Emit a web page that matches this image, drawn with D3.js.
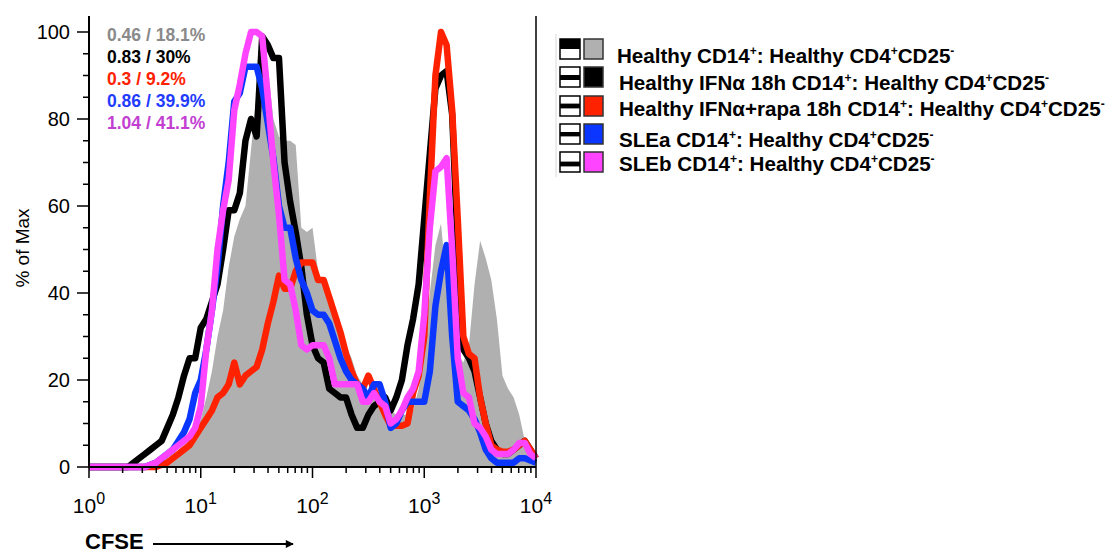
<!DOCTYPE html>
<html>
<head>
<meta charset="utf-8">
<script src="https://cdn.jsdelivr.net/npm/d3@7"></script>
<style>
body { margin: 0; background: #fff; }
svg text { font-family: "Liberation Sans", Arial, Helvetica, sans-serif; }
</style>
</head>
<body>
<div id="chart"></div>
<script>
// histogram bin centres, log10(CFSE)
var cfseLog = [0, 0.05, 0.1, 0.15, 0.2, 0.25, 0.3, 0.35, 0.4, 0.45,
    0.5, 0.55, 0.6, 0.65, 0.7, 0.75, 0.8, 0.85, 0.9, 0.95,
    1, 1.05, 1.1, 1.15, 1.2, 1.25, 1.3, 1.35, 1.4, 1.45,
    1.5, 1.55, 1.6, 1.65, 1.7, 1.75, 1.8, 1.85, 1.9, 1.95,
    2, 2.05, 2.1, 2.15, 2.2, 2.25, 2.3, 2.35, 2.4, 2.45,
    2.5, 2.55, 2.6, 2.65, 2.7, 2.75, 2.8, 2.85, 2.9, 2.95,
    3, 3.05, 3.1, 3.15, 3.2, 3.25, 3.3, 3.35, 3.4, 3.45,
    3.5, 3.55, 3.6, 3.65, 3.7, 3.75, 3.8, 3.85, 3.9, 3.95, 4];

// % of max, one value per bin
var healthy = [0, 0, 0, 0, 0, 0, 0, 0, 0, 0,
    0, 0, 0, 0, 1, 2, 4, 5, 7, 9,
    11, 16, 22, 30, 36, 46, 53, 57, 60, 73,
    86, 100, 92, 80, 76, 75, 75, 74, 55, 54,
    55, 45, 41, 38, 34, 31, 28, 25, 21, 19,
    17, 16, 15, 14, 13, 12, 12, 12, 13, 18,
    28, 40, 51, 56, 42, 30, 26, 24, 28, 42,
    52, 48, 43, 34, 21, 18, 16, 12, 6, 2, 0];

var ifn18h = [0, 0, 0, 0, 0, 0, 0, 0, 1, 2,
    3, 4, 5, 6, 9, 12, 16, 21, 25, 25,
    32, 34, 38, 42, 50, 59, 59, 63, 75, 80,
    76, 99, 97, 94, 94, 70, 61, 54, 46, 35,
    28, 25, 24, 18, 17, 16, 16, 12, 9, 9,
    12, 14, 15, 16, 13, 16, 20, 28, 34, 42,
    57, 72, 87, 90, 91, 81, 50, 27, 25, 22,
    16, 10, 6, 4, 3, 3, 4, 5, 6, 4, 2];

var ifnRapa = [0, 0, 0, 0, 0, 0, 0, 0, 0, 0,
    0, 0, 0, 0.5, 1, 2, 3, 4, 5, 7,
    9, 11, 13, 16, 17, 19, 24, 19, 21, 22,
    23, 27, 33, 38, 44, 41, 41, 45, 47, 47,
    47, 43, 43, 39, 35, 31, 26, 22, 19, 18,
    21, 18, 15, 12, 9.5, 9.5, 9.5, 10, 17, 21,
    30, 62, 90, 100, 97, 82, 57, 30, 26, 25,
    16, 10, 5, 4, 3.5, 3.5, 4, 5, 6, 4, 2];

var sleA = [0, 0, 0, 0, 0, 0, 0, 0, 0, 0,
    0, 0.5, 1, 2, 3, 4, 6, 8, 11, 17,
    20, 27, 36, 46, 60, 70, 84, 86, 92, 92,
    92, 87, 79, 71, 60, 55, 55, 48, 43, 40,
    36, 35, 35, 33, 29, 25, 22, 20, 19, 18,
    16, 19, 19, 15, 9, 10, 13, 15, 15, 15,
    15, 22, 37, 45, 51, 30, 15, 14, 13, 11,
    8, 4, 2, 1, 1, 1, 1, 2, 2, 1.5, 1];

var sleB = [0, 0, 0, 0, 0, 0, 0, 0, 0, 0,
    0, 0.5, 1, 2, 3, 4, 5, 6, 7, 9,
    14, 27, 36, 50, 59, 66, 82, 88, 95, 100,
    100, 99, 85, 70, 58, 43, 42, 36, 28, 27,
    28, 28, 28, 25, 19, 19, 19, 19, 19, 15,
    15, 17, 15, 14, 10, 11, 13, 16, 18, 22,
    35, 55, 68, 69, 71, 50, 25, 17, 16, 10,
    9, 7, 4, 3, 3, 3, 4, 5.5, 5.5, 3, 2];

var legendNames = [
    ["Healthy CD14", "+", ": Healthy CD4", "+", "CD25", "-"],
    ["Healthy IFN\u03b1 18h CD14", "+", ": Healthy CD4", "+", "CD25", "-"],
    ["Healthy IFN\u03b1+rapa 18h CD14", "+", ": Healthy CD4", "+", "CD25", "-"],
    ["SLEa CD14", "+", ": Healthy CD4", "+", "CD25", "-"],
    ["SLEb CD14", "+", ": Healthy CD4", "+", "CD25", "-"]
];
var seriesColors = ["#b0b0b0", "#000000", "#ff2200", "#0a36ff", "#ff44ff"];
var statLabels = ["0.46 / 18.1%", "0.83 / 30%", "0.3 / 9.2%", "0.86 / 39.9%", "1.04 / 41.1%"];
var statColors = ["#8a8a8a", "#000000", "#ff2200", "#1f3cff", "#c23fd2"];
var yTicks = [0, 20, 40, 60, 80, 100];
var xDecades = [0, 1, 2, 3, 4];

(function() {
    var W = 1108, H = 553;
    var mLeft = 89, mRight = 536, mTop = 32, mBottom = 467;

    var svg = d3.select("#chart")
        .append("svg")
        .attr("width", W)
        .attr("height", H);

    var x = d3.scaleLog().domain([1, 10000]).range([mLeft, mRight]);
    var y = d3.scaleLinear().domain([0, 100]).range([mBottom, mTop]);

    var pts = function(vals) {
        return vals.map(function(v, i) { return {c: Math.pow(10, cfseLog[i]), v: v}; });
    };

    // gray filled histogram
    var area = d3.area()
        .x(function(d) { return x(d.c); })
        .y0(y(0))
        .y1(function(d) { return y(d.v); });

    svg.append("path")
        .attr("d", area(pts(healthy)))
        .attr("fill", seriesColors[0]);

    var line = d3.line()
        .x(function(d) { return x(d.c); })
        .y(function(d) { return y(d.v); });

    // draw order: black, red, blue, magenta on top
    [[ifn18h, 1], [ifnRapa, 2], [sleA, 3], [sleB, 4]].forEach(function(s) {
        svg.append("path")
            .attr("d", line(pts(s[0])))
            .attr("fill", "none")
            .attr("stroke", seriesColors[s[1]])
            .attr("stroke-width", 6.5)
            .attr("stroke-linejoin", "round");
    });

    // axes
    var axes = svg.append("g").attr("stroke", "#000").attr("stroke-width", 2);
    axes.append("line").attr("x1", mLeft).attr("x2", mLeft).attr("y1", 16).attr("y2", mBottom + 1);
    axes.append("line").attr("x1", mLeft - 1).attr("x2", mRight).attr("y1", mBottom).attr("y2", mBottom);
    axes.append("line").attr("x1", mRight).attr("x2", mRight).attr("y1", 16).attr("y2", mBottom)
        .attr("stroke-width", 1.5);

    // y ticks: major every 20, minor every 5
    d3.range(0, 101, 5).forEach(function(v) {
        var major = yTicks.indexOf(v) >= 0;
        axes.append("line")
            .attr("x1", mLeft - (major ? 12 : 6)).attr("x2", mLeft)
            .attr("y1", y(v)).attr("y2", y(v))
            .attr("stroke-width", 1.5);
    });

    svg.selectAll(".ylab")
        .data(yTicks)
        .enter().append("text")
        .attr("class", "ylab")
        .attr("x", 70)
        .attr("y", function(d) { return y(d); })
        .attr("dy", "0.36em")
        .attr("text-anchor", "end")
        .style("font-size", "20px")
        .text(function(d) { return d; });

    // x ticks: decades plus log minors
    xDecades.forEach(function(p) {
        var t = Math.pow(10, p);
        axes.append("line")
            .attr("x1", x(t)).attr("x2", x(t))
            .attr("y1", mBottom).attr("y2", mBottom + 11)
            .attr("stroke-width", 1.5);
        if (p < 4) {
            for (var m = 2; m <= 9; m++) {
                axes.append("line")
                    .attr("x1", x(t * m)).attr("x2", x(t * m))
                    .attr("y1", mBottom).attr("y2", mBottom + 6)
                    .attr("stroke-width", 1.5);
            }
        }
        var lab = svg.append("text")
            .attr("x", x(t))
            .attr("y", 513)
            .attr("text-anchor", "middle")
            .style("font-size", "21px");
        lab.append("tspan").text("10");
        lab.append("tspan").attr("dy", -9).style("font-size", "16px").text(p);
    });

    // axis titles
    svg.append("text")
        .attr("transform", "translate(29,248) rotate(-90)")
        .attr("text-anchor", "middle")
        .style("font-size", "19px")
        .text("% of Max");

    svg.append("text")
        .attr("x", 85)
        .attr("y", 549)
        .style("font-size", "22px")
        .style("font-weight", "bold")
        .text("CFSE");

    svg.append("defs").append("marker")
        .attr("id", "arrow")
        .attr("viewBox", "0 0 10 10")
        .attr("refX", 9).attr("refY", 5)
        .attr("markerWidth", 5).attr("markerHeight", 4)
        .attr("orient", "auto")
        .append("path").attr("d", "M0,0L10,5L0,10z").attr("fill", "#000");

    svg.append("line")
        .attr("x1", 153).attr("x2", 293)
        .attr("y1", 544).attr("y2", 544)
        .attr("stroke", "#000").attr("stroke-width", 2)
        .attr("marker-end", "url(#arrow)");

    // statistics in the top-left corner
    svg.selectAll(".stat")
        .data(statLabels)
        .enter().append("text")
        .attr("class", "stat")
        .attr("x", 107)
        .attr("y", function(d, i) { return 41 + i * 22; })
        .attr("fill", function(d, i) { return statColors[i]; })
        .style("font-size", "17.5px")
        .style("font-weight", "bold")
        .text(function(d) { return d; });

    // legend
    var legendTop = [39, 67, 96, 124, 152];
    var textBase = [63, 90, 116, 147, 171];
    var textX = [617, 619, 619, 619, 619];
    var bandPos = [[0, 0.5], [0.4, 0.65], [0.38, 0.62], [0.4, 0.62], [0.48, 0.72]];

    svg.append("line")
        .attr("x1", 556).attr("x2", 556).attr("y1", 34).attr("y2", 177)
        .attr("stroke", "#d8d8d8").attr("stroke-width", 1);

    var leg = svg.selectAll(".leg")
        .data(legendNames)
        .enter().append("g")
        .attr("class", "leg");

    leg.append("rect")
        .attr("x", 560).attr("y", function(d, i) { return legendTop[i]; })
        .attr("width", 20).attr("height", 20)
        .attr("fill", "#fff").attr("stroke", "#000").attr("stroke-width", 1.5);

    leg.append("rect")
        .attr("x", 560)
        .attr("y", function(d, i) { return legendTop[i] + 20 * bandPos[i][0]; })
        .attr("width", 20)
        .attr("height", function(d, i) { return 20 * (bandPos[i][1] - bandPos[i][0]); })
        .attr("fill", "#000");

    leg.append("rect")
        .attr("x", 584).attr("y", function(d, i) { return legendTop[i]; })
        .attr("width", 19).attr("height", 20)
        .attr("fill", function(d, i) { return seriesColors[i]; })
        .attr("stroke", "#333").attr("stroke-width", 1.5);

    leg.append("text")
        .attr("x", function(d, i) { return textX[i]; })
        .attr("y", function(d, i) { return textBase[i]; })
        .style("font-size", "20.6px")
        .style("font-weight", "bold")
        .each(function(parts) {
            var t = d3.select(this);
            parts.forEach(function(p, j) {
                var sup = j % 2 === 1;
                t.append("tspan")
                    .attr("dy", sup ? -8 : (j > 0 ? 8 : 0))
                    .style("font-size", sup ? "12px" : null)
                    .text(p);
            });
        });
})();
</script>
</body>
</html>
